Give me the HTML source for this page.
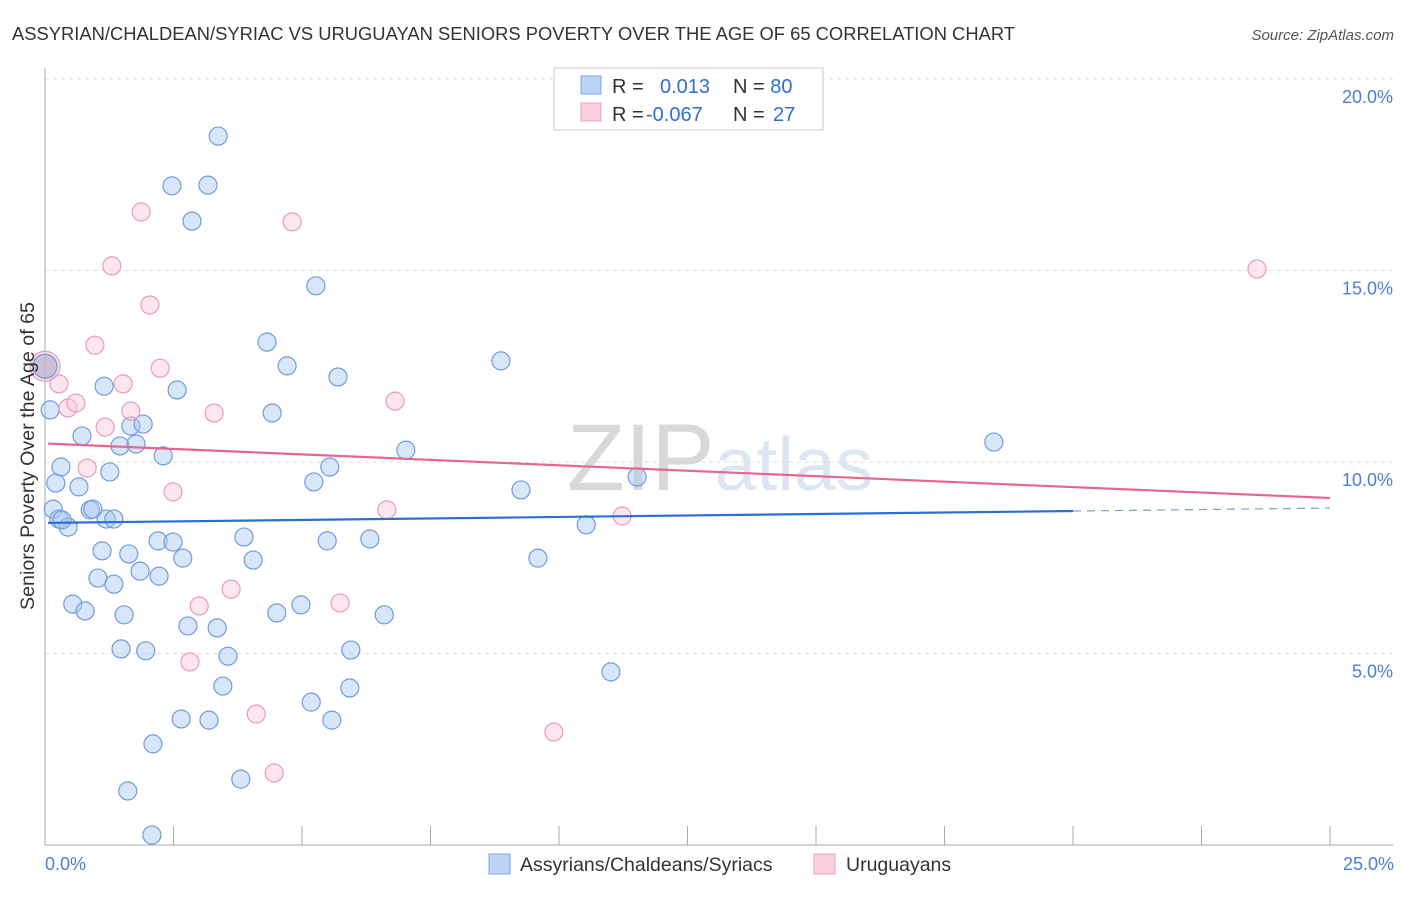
<!DOCTYPE html>
<html><head><meta charset="utf-8"><style>
body{margin:0;background:#fff;font-family:"Liberation Sans",sans-serif;}
svg text{font-family:"Liberation Sans",sans-serif;}
</style></head><body>
<svg width="1406" height="892" xmlns="http://www.w3.org/2000/svg" id="chart">
<text x="12" y="40" font-size="18" fill="#333" textLength="1003" lengthAdjust="spacingAndGlyphs">ASSYRIAN/CHALDEAN/SYRIAC VS URUGUAYAN SENIORS POVERTY OVER THE AGE OF 65 CORRELATION CHART</text>
<text x="1394" y="40" font-size="15" fill="#555" font-style="italic" text-anchor="end">Source: ZipAtlas.com</text>
<text x="720" y="490" font-size="95" fill="#ddd" text-anchor="middle" font-family="Liberation Serif"><tspan fill="#d8d8d8">ZIP</tspan><tspan fill="#dce6f3" font-family="Liberation Sans" font-size="75">atlas</tspan></text>
<g id="grid"></g>
<g id="axes"></g>
<g id="points"></g>
<g id="trends"></g>
<text transform="translate(34,456) rotate(-90)" font-size="19" fill="#333" text-anchor="middle" textLength="308" lengthAdjust="spacingAndGlyphs">Seniors Poverty Over the Age of 65</text>
<text x="45" y="870" font-size="18" fill="#4a7fd6">0.0%</text>
<text x="1394" y="870" font-size="18" fill="#4a7fd6" text-anchor="end">25.0%</text>
<g>
<rect x="554" y="68" width="269" height="62" fill="#fff" stroke="#ccc"/>
<rect x="581" y="76" width="20" height="18" fill="#bcd4f5" stroke="#7aa4e0"/>
<rect x="581" y="103" width="20" height="18" fill="#fbd0dc" stroke="#eda0b8"/>
<text x="612" y="93" font-size="20" fill="#333">R = <tspan fill="#2f6fd1" x="660">0.013</tspan><tspan fill="#333" x="733">N = </tspan><tspan fill="#2f6fd1">80</tspan></text>
<text x="612" y="121" font-size="20" fill="#333">R = <tspan fill="#2f6fd1" x="646">-0.067</tspan><tspan fill="#333" x="733">N = </tspan><tspan fill="#2f6fd1" x="773">27</tspan></text>
</g>
<g>
<rect x="489" y="854" width="21" height="20" fill="#bcd4f5" stroke="#7aa4e0"/>
<text x="520" y="871" font-size="19.5" fill="#333">Assyrians/Chaldeans/Syriacs</text>
<rect x="814" y="854" width="21" height="20" fill="#fbd0dc" stroke="#eda0b8"/>
<text x="846" y="871" font-size="19.5" fill="#333">Uruguayans</text>
</g>
</svg>
<script>
const yTicks=[5,10,15,20];
const yTickLabels=["5.0%","10.0%","15.0%","20.0%"];
const xTicks=[2.5,5,7.5,10,12.5,15,17.5,20,22.5,25];
const blueX=[3.37,2.47,3.17,2.86,5.27,4.32,4.71,5.70,8.87,1.15,2.57,0.10,4.42,1.67,1.91,0.72,1.46,1.77,2.30,7.02,18.46,0.31,1.26,5.54,0.21,0.66,5.23,9.26,11.52,0.16,0.88,0.27,0.45,1.19,1.34,10.53,3.87,2.20,2.49,5.49,6.32,1.11,1.63,2.68,4.05,9.59,1.85,1.03,1.34,2.22,0.54,0.78,1.54,2.78,3.35,4.51,4.98,6.60,1.48,1.96,5.95,3.56,11.01,3.46,5.93,5.18,2.65,3.19,5.58,2.10,3.81,1.61,2.08,0.93,0.33];
const blueY=[18.51,17.21,17.23,16.29,14.60,13.13,12.51,12.22,12.64,11.98,11.88,11.36,11.28,10.94,10.99,10.68,10.42,10.47,10.16,10.31,10.52,9.87,9.74,9.87,9.45,9.35,9.48,9.27,9.61,8.77,8.75,8.51,8.30,8.51,8.51,8.36,8.04,7.94,7.91,7.94,7.99,7.68,7.60,7.49,7.44,7.49,7.15,6.97,6.81,7.02,6.29,6.11,6.01,5.72,5.67,6.06,6.27,6.01,5.12,5.07,5.09,4.93,4.52,4.15,4.10,3.73,3.29,3.26,3.26,2.64,1.72,1.41,0.26,8.77,8.49];
const pinkX=[1.87,4.81,1.30,2.04,23.58,0.97,2.24,1.52,0.27,0.45,0.60,1.67,3.29,6.81,1.17,0.82,2.49,6.65,11.23,3.62,3.00,5.74,2.82,4.11,9.90,4.46];
const pinkY=[16.53,16.27,15.12,14.10,15.04,13.05,12.45,12.04,12.04,11.41,11.54,11.33,11.28,11.59,10.91,9.84,9.22,8.75,8.59,6.68,6.24,6.32,4.78,3.42,2.95,1.88];
const bigX=[0];
const bigY=[12.5];
const blueTrend=[8.41,8.72];
const pinkTrend=[10.48,9.06];
const NS="http://www.w3.org/2000/svg";
const X=v=>45+v*51.4;
const Y=v=>845-v*38.3;
function mk(tag,parent,attrs){const e=document.createElementNS(NS,tag);for(const k in attrs)e.setAttribute(k,attrs[k]);document.getElementById(parent).appendChild(e);return e;}
yTicks.forEach((t,i)=>{
 const l=mk('line','grid',{x1:45,x2:1393,y1:Y(t),y2:Y(t),stroke:'#ddd','stroke-dasharray':'4,4'});
 
 
 const tx=mk('text','grid',{x:1393,y:Y(t)+24,'font-size':18,fill:'#4a7fd6','text-anchor':'end'});
 tx.textContent=yTickLabels[i];
 
 
});
const ya=mk('line','axes',{x1:45,x2:45,y1:68,y2:845,stroke:'#aaa'});


const xa=mk('line','axes',{x1:45,x2:1393,y1:845,y2:845,stroke:'#aaa'});


xTicks.forEach(t=>{
 const l=mk('line','axes',{x1:X(t),x2:X(t),y1:826,y2:845,stroke:'#aaa'});
 
 
});
blueX.forEach((v,i)=>{
 const c=mk('circle','points',{cx:X(v),cy:Y(blueY[i]),r:9,fill:'rgba(168,200,242,0.45)',stroke:'#6f9be0','stroke-width':1.2});
 
 
});
pinkX.forEach((v,i)=>{
 const c=mk('circle','points',{cx:X(v),cy:Y(pinkY[i]),r:9,fill:'rgba(250,200,215,0.45)',stroke:'#eb9bb5','stroke-width':1.2});
 
 
});
bigX.forEach((v,i)=>{
 const c=mk('circle','points',{cx:X(v),cy:Y(bigY[i]),r:15,fill:'rgba(250,195,212,0.5)',stroke:'#eb9bb5','stroke-width':1.2});
 
 
 const d=mk('circle','points',{cx:X(v),cy:Y(bigY[i]),r:12,fill:'rgba(170,170,200,0.6)',stroke:'#6f9be0','stroke-width':1.2});
 
 
});
const bSlope=(blueTrend[1]-blueTrend[0])/20;
const b1=mk('line','trends',{x1:X(0.06),y1:Y(blueTrend[0]+bSlope*0.06),x2:X(20),y2:Y(blueTrend[1]),stroke:'#2a6fd6','stroke-width':2.2});


const b2=mk('line','trends',{x1:X(20),y1:Y(blueTrend[1]),x2:X(25),y2:Y(blueTrend[0]+bSlope*25),stroke:'#7aa0d8','stroke-width':1.2,'stroke-dasharray':'8,6'});


const p1=mk('line','trends',{x1:X(0.06),y1:Y(pinkTrend[0]),x2:X(25),y2:Y(pinkTrend[1]),stroke:'#e5678f','stroke-width':2.2});


</script>
</body></html>
